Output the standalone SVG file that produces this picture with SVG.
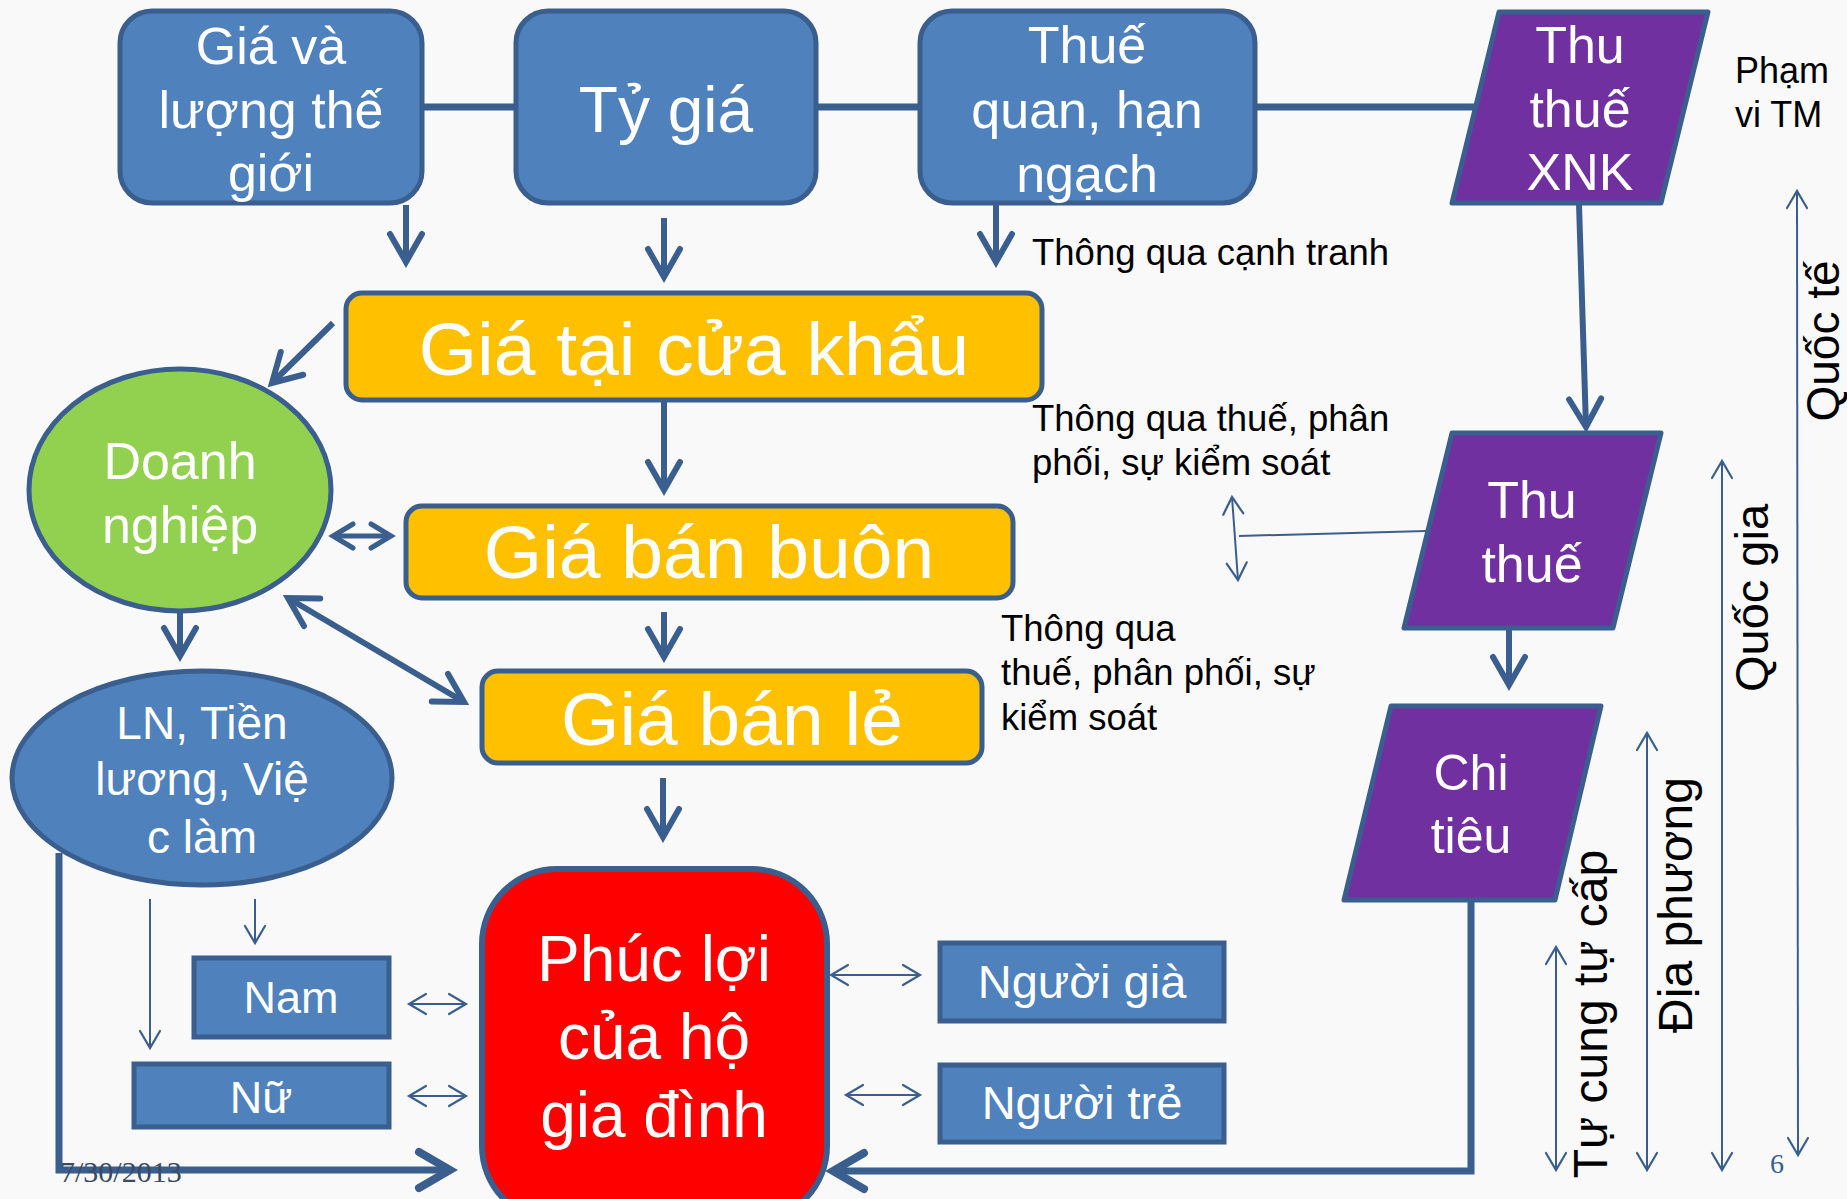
<svg xmlns="http://www.w3.org/2000/svg" width="1847" height="1199" viewBox="0 0 1847 1199">
<defs>
<style>
.bg{fill:#F9F9F9}
.blue{fill:#4F81BD;stroke:#3A5F8E;stroke-width:5}
.yel{fill:#FFC000;stroke:#3A5F8E;stroke-width:5}
.pur{fill:#7030A0;stroke:#3A5F8E;stroke-width:5;stroke-linejoin:round}
.grn{fill:#92D050;stroke:#3A5F8E;stroke-width:5}
.red{fill:#FF0000;stroke:#3A5F8E;stroke-width:6}
.wt{fill:#FFFFFF;font-family:"Liberation Sans",Arial,sans-serif;text-anchor:middle}
.bt{fill:#000000;font-family:"Liberation Sans",Arial,sans-serif}
.thick{fill:none;stroke:#3A5F8E;stroke-width:6}
.big{fill:none;stroke:#3A5F8E;stroke-width:7}
.med{fill:none;stroke:#3A5F8E;stroke-width:5}
.thin{fill:none;stroke:#3A5F8E;stroke-width:2}
</style>
<marker id="mT" viewBox="0 0 40 40" refX="34" refY="20" markerWidth="40" markerHeight="40" markerUnits="userSpaceOnUse" orient="auto-start-reverse"><path d="M6,4 L34,20 L6,36" fill="none" stroke="#3A5F8E" stroke-width="6" stroke-linecap="round"/></marker>
<marker id="mL" viewBox="0 0 48 48" refX="40" refY="24" markerWidth="48" markerHeight="48" markerUnits="userSpaceOnUse" orient="auto-start-reverse"><path d="M9,6 L40,24 L9,42" fill="none" stroke="#3A5F8E" stroke-width="8" stroke-linecap="round"/></marker>
<marker id="mM" viewBox="0 0 30 30" refX="25" refY="15" markerWidth="30" markerHeight="30" markerUnits="userSpaceOnUse" orient="auto-start-reverse"><path d="M5,3 L25,15 L5,27" fill="none" stroke="#3A5F8E" stroke-width="5" stroke-linecap="round"/></marker>
<marker id="mS" viewBox="0 0 24 24" refX="20" refY="12" markerWidth="24" markerHeight="24" markerUnits="userSpaceOnUse" orient="auto-start-reverse"><path d="M3,2 L20,12 L3,22" fill="none" stroke="#3A5F8E" stroke-width="2.2" stroke-linecap="round"/></marker>
</defs>
<rect class="bg" x="0" y="0" width="1847" height="1199"/>

<g id="connectors">
<path class="big" d="M422,107 L516,107 M816,107 L920,107 M1255,107 L1476,107"/>
<path class="thick" d="M406,205 L406,262" marker-end="url(#mT)"/>
<path class="thick" d="M664,218 L664,277" marker-end="url(#mT)"/>
<path class="thick" d="M996,205 L996,262" marker-end="url(#mT)"/>
<path class="thick" d="M333,323 L272,383" marker-end="url(#mT)"/>
<path class="thick" d="M664,401 L664,490" marker-end="url(#mT)"/>
<path class="thick" d="M664,612 L664,657" marker-end="url(#mT)"/>
<path class="thick" d="M663,778 L663,837" marker-end="url(#mT)"/>
<path class="med" d="M333,536 L391,536" marker-start="url(#mM)" marker-end="url(#mM)"/>
<path class="thick" d="M288,598 L464,702" marker-start="url(#mT)" marker-end="url(#mT)"/>
<path class="thick" d="M180,612 L180,656" marker-end="url(#mT)"/>
<path class="thin" d="M150,899 L150,1048" marker-end="url(#mS)"/>
<path class="thin" d="M255,899 L255,943" marker-end="url(#mS)"/>
<path class="thin" d="M409,1004 L466,1004" marker-start="url(#mS)" marker-end="url(#mS)"/>
<path class="thin" d="M409,1096 L466,1096" marker-start="url(#mS)" marker-end="url(#mS)"/>
<path class="big" d="M59,853 L59,1170 L450,1170" marker-end="url(#mL)"/>
<path class="thin" d="M831,975 L920,975" marker-start="url(#mS)" marker-end="url(#mS)"/>
<path class="thin" d="M846,1095 L920,1095" marker-start="url(#mS)" marker-end="url(#mS)"/>
<path class="big" d="M1471,900 L1471,1171 L833,1171" marker-end="url(#mL)"/>
<path class="thick" d="M1579,204 L1586,427" marker-end="url(#mT)"/>
<path class="thick" d="M1509,628 L1509,685" marker-end="url(#mT)"/>
<path class="thin" d="M1426,531 L1239,536"/>
<path class="thin" d="M1232,497 L1238,580" marker-start="url(#mS)" marker-end="url(#mS)"/>
<path class="thin" d="M1797,191 L1798,1155" marker-start="url(#mS)" marker-end="url(#mS)"/>
<path class="thin" d="M1722,461 L1722,1170" marker-start="url(#mS)" marker-end="url(#mS)"/>
<path class="thin" d="M1647,733 L1647,1170" marker-start="url(#mS)" marker-end="url(#mS)"/>
<path class="thin" d="M1556,947 L1556,1170" marker-start="url(#mS)" marker-end="url(#mS)"/>
</g>

<g id="gia-the-gioi">
<rect class="blue" x="120" y="11" width="302" height="192" rx="32"/>
<text class="wt" font-size="52" x="271"><tspan x="271" y="64">Giá và</tspan><tspan x="271" y="128">lượng thế</tspan><tspan x="271" y="191">giới</tspan></text>
</g>
<g id="ty-gia">
<rect class="blue" x="516" y="11" width="300" height="192" rx="32"/>
<text class="wt" font-size="64" x="666" y="132">Tỷ giá</text>
</g>
<g id="thue-quan">
<rect class="blue" x="920" y="11" width="335" height="192" rx="32"/>
<text class="wt" font-size="52" x="1087"><tspan x="1087" y="63">Thuế</tspan><tspan x="1087" y="128">quan, hạn</tspan><tspan x="1087" y="192">ngạch</tspan></text>
</g>
<g id="thu-thue-xnk">
<polygon class="pur" points="1499,12 1708,12 1661,203 1452,203"/>
<text class="wt" font-size="52" x="1580"><tspan x="1580" y="63">Thu</tspan><tspan x="1580" y="127">thuế</tspan><tspan x="1580" y="190">XNK</tspan></text>
</g>
<g id="pham-vi">
<text class="bt" font-size="36" x="1735"><tspan x="1735" y="83">Phạm</tspan><tspan x="1735" y="127">vi TM</tspan></text>
</g>

<g id="gia-cua-khau">
<rect class="yel" x="346" y="293" width="696" height="107" rx="16"/>
<text class="wt" font-size="75" x="694" y="375">Giá tại cửa khẩu</text>
</g>
<g id="gia-ban-buon">
<rect class="yel" x="406" y="506" width="607" height="92" rx="16"/>
<text class="wt" font-size="75" x="709" y="578">Giá bán buôn</text>
</g>
<g id="gia-ban-le">
<rect class="yel" x="482" y="671" width="500" height="92" rx="16"/>
<text class="wt" font-size="75" x="732" y="745">Giá bán lẻ</text>
</g>

<g id="doanh-nghiep">
<ellipse class="grn" cx="180" cy="490" rx="151" ry="121"/>
<text class="wt" font-size="52" x="180"><tspan x="180" y="479">Doanh</tspan><tspan x="180" y="543">nghiệp</tspan></text>
</g>
<g id="ln-tien-luong">
<ellipse class="blue" cx="202" cy="778" rx="190" ry="107"/>
<text class="wt" font-size="46" x="202"><tspan x="202" y="739">LN, Tiền</tspan><tspan x="202" y="795">lương, Việ</tspan><tspan x="202" y="853">c làm</tspan></text>
</g>
<g id="nam">
<rect class="blue" x="194" y="958" width="195" height="79"/>
<text class="wt" font-size="45" x="291" y="1013">Nam</text>
</g>
<g id="nu">
<rect class="blue" x="134" y="1064" width="255" height="63"/>
<text class="wt" font-size="45" x="261" y="1113">Nữ</text>
</g>

<g id="phuc-loi">
<rect class="red" x="482" y="869" width="345" height="352" rx="75"/>
<text class="wt" font-size="64" x="654"><tspan x="654" y="981">Phúc lợi</tspan><tspan x="654" y="1059">của hộ</tspan><tspan x="654" y="1137">gia đình</tspan></text>
</g>
<g id="nguoi-gia">
<rect class="blue" x="940" y="943" width="284" height="78"/>
<text class="wt" font-size="47" x="1082" y="998">Người già</text>
</g>
<g id="nguoi-tre">
<rect class="blue" x="940" y="1065" width="284" height="77"/>
<text class="wt" font-size="47" x="1082" y="1119">Người trẻ</text>
</g>

<g id="thu-thue">
<polygon class="pur" points="1452,433 1661,433 1613,628 1404,628"/>
<text class="wt" font-size="52" x="1532"><tspan x="1532" y="518">Thu</tspan><tspan x="1532" y="582">thuế</tspan></text>
</g>
<g id="chi-tieu">
<polygon class="pur" points="1391,706 1601,706 1555,900 1344,900"/>
<text class="wt" font-size="50" x="1471"><tspan x="1471" y="790">Chi</tspan><tspan x="1471" y="853">tiêu</tspan></text>
</g>

<g id="labels">
<text class="bt" font-size="36.5" x="1032" y="265">Thông qua cạnh tranh</text>
<text class="bt" font-size="36.5" x="1032"><tspan x="1032" y="431">Thông qua thuế, phân</tspan><tspan x="1032" y="475">phối, sự kiểm soát</tspan></text>
<text class="bt" font-size="36.5" x="1001"><tspan x="1001" y="641">Thông qua</tspan><tspan x="1001" y="685">thuế, phân phối, sự</tspan><tspan x="1001" y="730">kiểm soát</tspan></text>
<text class="bt" font-size="46" text-anchor="middle" transform="translate(1839,341) rotate(-90)">Quốc tế</text>
<text class="bt" font-size="47" text-anchor="middle" transform="translate(1768,598) rotate(-90)">Quốc gia</text>
<text class="bt" font-size="48" text-anchor="middle" transform="translate(1692,905) rotate(-90)">Địa phương</text>
<text class="bt" font-size="48" text-anchor="middle" transform="translate(1607,1014) rotate(-90)">Tự cung tự cấp</text>
<text font-family="'Liberation Serif',serif" font-size="30" fill="#3A4A63" x="60" y="1182">7/30/2013</text>
<text font-family="'Liberation Serif',serif" font-size="28" fill="#3A5F8E" x="1770" y="1173">6</text>
</g>
</svg>
